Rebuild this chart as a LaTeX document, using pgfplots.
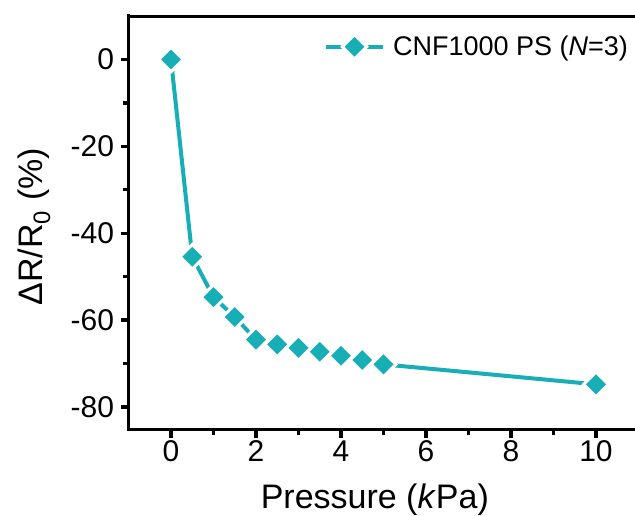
\documentclass[border=0pt]{standalone}
\usepackage{pgfplots}
\pgfplotsset{compat=1.18}
\usepackage{fontspec}
\setmainfont{Liberation Sans}
\definecolor{tealc}{HTML}{17AEB5}
\begin{document}
\begin{tikzpicture}[x=1pt,y=1pt]
\useasboundingbox (-128.5,-85.5) rectangle (506.5,429.5);
\begin{axis}[
  at={(0,0)}, anchor=south west,
  scale only axis, width=510pt, height=413.8pt,
  xmin=-1, xmax=11, ymin=-85.2, ymax=10.1,
  axis x line*=bottom, axis y line*=left,
  axis line style={line width=3.8pt, line cap=rect},
  xtick={0,2,...,10}, minor xtick={1,3,...,9},
  ytick={-80,-60,...,0}, minor ytick={-70,-50,...,-10},
  tick align=outside,
  major tick length=8pt, minor tick length=5pt,
  every tick/.style={line width=3.2pt, black},
  /pgf/number format/assume math mode=true,
  tick label style={font=\fontsize{30}{34}\selectfont},
  yticklabel style={xshift=-3pt},
  label style={font=\fontsize{34}{39}\selectfont},
  xlabel={Pressure (\textit{k}Pa)},
  ylabel={ΔR/R\textsubscript{0} (\%)},
  xlabel style={at={(axis description cs:0.483,-0.192)}, anchor=base},
  ylabel style={at={(axis description cs:-0.1696,0.49)}, anchor=base},
  legend style={draw=none, fill=none, at={(axis description cs:0.383,0.925)}, anchor=west,
    font=\fontsize{27}{31}\selectfont, inner sep=0pt, legend cell align=left,
    /tikz/every odd column/.append style={column sep=6pt}},
  legend image code/.code={\draw[mark repeat=2,mark phase=2,#1] plot coordinates {(0pt,0pt) (28.5pt,0pt) (57pt,0pt)};},
]
\addplot[tealc, line width=4pt, mark=square*, mark size=8.7pt,
  mark options={rotate=45, fill=tealc, draw=white, line width=3pt}]
  coordinates {
  (0,0) (0.5,-45.4) (1,-54.7) (1.5,-59.3) (2,-64.5) (2.5,-65.6) (3,-66.4)
  (3.5,-67.3) (4,-68.2) (4.5,-69.2) (5,-70.2) (10,-74.8)
  };
\addlegendentry{CNF1000 PS (\textit{N}=3)}
\draw[line width=3.8pt, line cap=rect] (rel axis cs:0,1) -- (rel axis cs:1,1);
\pgfplotsinvokeforeach{0,...,10}{\draw[line width=2.4pt] (axis cs:#1,10.1) -- ++(0,-6pt);}
\end{axis}
\end{tikzpicture}
\end{document}
